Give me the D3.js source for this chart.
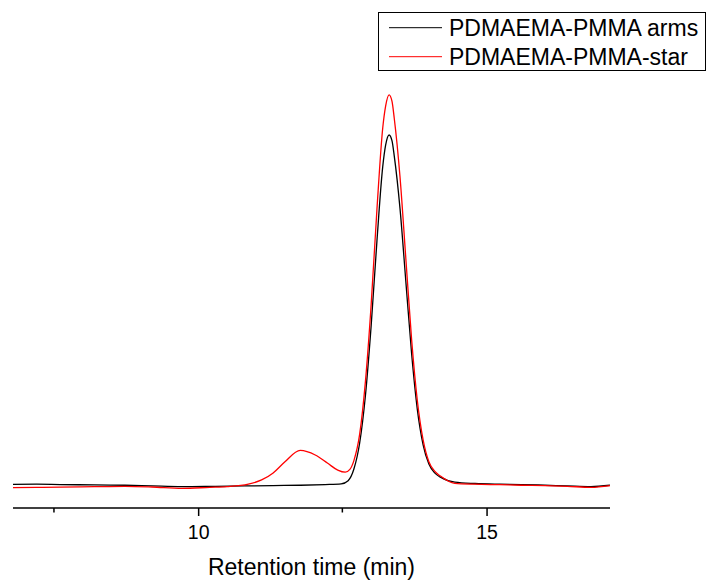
<!DOCTYPE html>
<html>
<head>
<meta charset="utf-8">
<script src="https://cdn.jsdelivr.net/npm/d3@7/dist/d3.min.js"></script>
<style>
  html, body { margin: 0; padding: 0; background: #fff; }
  svg { display: block; font-family: "Liberation Sans", Arial, sans-serif; }
</style>
</head>
<body>
<svg id="chart" width="707" height="581"></svg>
<script>
// GPC traces: retention time (min) vs detector response (normalised to arms peak)
const armsTime = [6.79, 7.2, 7.61, 8.2, 8.73, 9.2, 9.72, 10.3, 10.81, 11.3, 11.77, 12.2, 12.48,
  12.6, 12.7, 12.8, 12.9, 13.0, 13.1, 13.2, 13.25, 13.31, 13.36, 13.4, 13.5, 13.6, 13.7, 13.8, 13.9,
  14.0, 14.1, 14.2, 14.45, 14.8, 15.23, 15.6, 16.01, 16.4, 16.81, 17.14];
const armsSignal = [0.0077, 0.008, 0.007, 0.006, 0.005, 0.003, 0.001, 0.002, 0.003, 0.004, 0.005, 0.007, 0.009,
  0.018, 0.051, 0.125, 0.26, 0.46, 0.70, 0.91, 0.971, 1.0, 0.984, 0.94, 0.79, 0.585, 0.38, 0.22, 0.12,
  0.065, 0.04, 0.028, 0.014, 0.010, 0.008, 0.007, 0.005, 0.003, 0.001, 0.005];

const starTime = [6.79, 7.2, 7.61, 8.2, 8.73, 9.2, 9.72, 10.2, 10.5, 10.87, 11.1, 11.3, 11.5, 11.77,
  12.03, 12.24, 12.42, 12.55, 12.63, 12.7, 12.8, 12.9, 13.0, 13.1, 13.2, 13.25, 13.31, 13.36, 13.4, 13.5,
  13.6, 13.7, 13.8, 13.9, 14.0, 14.1, 14.2, 14.45, 14.8, 15.23, 15.6, 16.01, 16.4, 16.81, 17.14];
const starSignal = [-0.002, -0.001, -0.0006, 0.001, 0.002, 0.0, -0.004, -0.001, 0.001, 0.008, 0.02, 0.04, 0.071, 0.104,
  0.091, 0.068, 0.048, 0.042, 0.05, 0.075, 0.15, 0.30, 0.52, 0.79, 1.02, 1.082, 1.114, 1.096, 1.047, 0.88,
  0.65, 0.42, 0.245, 0.134, 0.072, 0.045, 0.031, 0.0105, 0.008, 0.0065, 0.005, 0.004, 0.002, -0.001, 0.004];

const seriesNames = ["PDMAEMA-PMMA arms", "PDMAEMA-PMMA-star"];
const seriesColors = ["#000000", "#ff0000"];
const majorTicks = [10, 15];
const minorTicks = [7.5, 12.5];
const xDomain = [6.79, 17.14];
const xTitle = "Retention time (min)";

const svg = d3.select("#chart");

const x = d3.scaleLinear().domain(xDomain).range([13, 610]);
const y = d3.scaleLinear().domain([0, 1]).range([487, 135]);

const line = d3.line()
  .x(d => x(d[0]))
  .y(d => y(d[1]))
  .curve(d3.curveMonotoneX);

const series = [
  armsTime.map((t, i) => [t, armsSignal[i]]),
  starTime.map((t, i) => [t, starSignal[i]])
];

// traces
svg.append("g").selectAll("path")
  .data(series)
  .join("path")
  .attr("d", line)
  .attr("fill", "none")
  .attr("stroke", (d, i) => seriesColors[i])
  .attr("stroke-width", 1.3)
  .attr("stroke-linejoin", "round");

// bottom axis: major ticks with labels, minor ticks without
const axisY = 508;
const gAxis = svg.append("g").attr("transform", `translate(0,${axisY})`);
gAxis.call(d3.axisBottom(x).tickValues(majorTicks).tickSize(8).tickPadding(9).tickFormat(d3.format("d")));
gAxis.call(g => g.select(".domain").attr("d", `M${x.range()[0]},0H${x.range()[1]}`).attr("stroke-width", 1.5));
gAxis.selectAll(".tick line").attr("stroke-width", 1.5);
gAxis.selectAll(".tick text")
  .attr("font-size", 19.5)
  .attr("font-family", "Liberation Sans, Arial, sans-serif")
  .attr("fill", "#000");
gAxis.selectAll(".minor")
  .data(minorTicks)
  .join("line")
  .attr("class", "minor")
  .attr("x1", d => x(d)).attr("x2", d => x(d))
  .attr("y1", 0).attr("y2", 4.5)
  .attr("stroke", "#000").attr("stroke-width", 1.5);

svg.append("text")
  .attr("x", (206 + 417) / 2)
  .attr("y", 575)
  .attr("text-anchor", "middle")
  .attr("font-size", 23)
  .text(xTitle);

// legend
const legend = svg.append("g");
legend.append("rect")
  .attr("x", 378.5).attr("y", 12.5)
  .attr("width", 327).attr("height", 58)
  .attr("fill", "#fff").attr("stroke", "#000").attr("stroke-width", 1);
seriesNames.forEach((name, i) => {
  const ly = 27.7 + i * 29;
  legend.append("line")
    .attr("x1", 389).attr("x2", 442)
    .attr("y1", ly).attr("y2", ly)
    .attr("stroke", seriesColors[i]).attr("stroke-width", 1);
  legend.append("text")
    .attr("x", 449).attr("y", ly + 8.3)
    .attr("font-size", 23)
    .text(name);
});
</script>
</body>
</html>
